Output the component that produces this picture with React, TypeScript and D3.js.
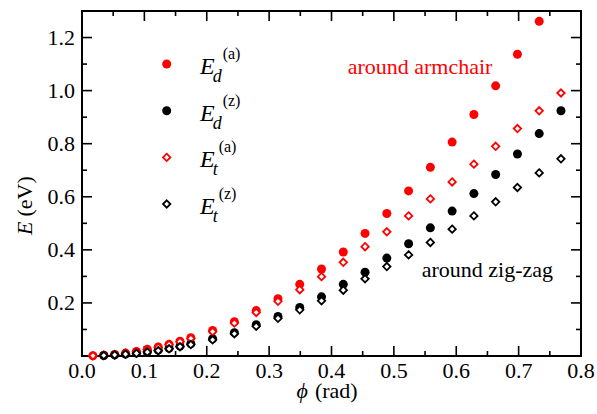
import React, { useEffect, useRef } from "react";
import * as d3 from "d3";

// phi values (rad)
const phi = [
  0.0175, 0.0349, 0.0524, 0.0698, 0.0873, 0.1047, 0.1222, 0.1396, 0.1571, 0.1745,
  0.2094, 0.2443, 0.2793, 0.3142, 0.3491, 0.384, 0.4189, 0.4538, 0.4887, 0.5236,
  0.5585, 0.5934, 0.6283, 0.6632, 0.6981, 0.733, 0.7679,
];

const edArmchair = [
  0.001, 0.003, 0.006, 0.011, 0.017, 0.025, 0.034, 0.044, 0.056, 0.069,
  0.096, 0.129, 0.171, 0.216, 0.27, 0.328, 0.392, 0.462, 0.537, 0.622,
  0.711, 0.806, 0.91, 1.018, 1.137, 1.261, null,
];
const edZigzag = [
  null, 0.002, 0.004, 0.007, 0.011, 0.016, 0.022, 0.029, 0.037, 0.046,
  0.065, 0.088, 0.118, 0.149, 0.183, 0.223, 0.27, 0.316, 0.369, 0.423,
  0.483, 0.546, 0.612, 0.684, 0.761, 0.838, 0.924,
];
const etArmchair = [
  0.001, 0.003, 0.006, 0.01, 0.016, 0.024, 0.033, 0.043, 0.054, 0.066,
  0.092, 0.124, 0.164, 0.206, 0.25, 0.299, 0.353, 0.412, 0.468, 0.528,
  0.592, 0.656, 0.723, 0.79, 0.857, 0.924, 0.991,
];
const etZigzag = [
  null, 0.002, 0.004, 0.007, 0.01, 0.015, 0.02, 0.027, 0.035, 0.043,
  0.061, 0.084, 0.112, 0.142, 0.174, 0.208, 0.248, 0.291, 0.337, 0.381,
  0.428, 0.478, 0.528, 0.581, 0.635, 0.69, 0.743,
];

const xTicks = [0, 0.1, 0.2, 0.3, 0.4, 0.5, 0.6, 0.7, 0.8];
const xMinor = [0.05, 0.15, 0.25, 0.35, 0.45, 0.55, 0.65, 0.75];
const yTicks = [0, 0.2, 0.4, 0.6, 0.8, 1.0, 1.2];
const yMinor = [0.1, 0.3, 0.5, 0.7, 0.9, 1.1];
const yLabels = ["", "0.2", "0.4", "0.6", "0.8", "1.0", "1.2"];

const seriesKeys = ["Ed(a)", "Ed(z)", "Et(a)", "Et(z)"];
const legendSub = ["d", "d", "t", "t"];
const legendSup = ["(a)", "(z)", "(a)", "(z)"];

const FONT = "Liberation Serif";
const RED = "#ff0000";

export default function App() {
  const ref = useRef<SVGSVGElement>(null);

  useEffect(() => {
    const W = 597, H = 414;
    const L = 82, R = 581, T = 11, B = 356;
    const x = d3.scaleLinear().domain([0, 0.8]).range([L, R]);
    const y = d3.scaleLinear().domain([0, 1.3]).range([B, T]);

    const svg = d3.select(ref.current);
    svg.selectAll("*").remove();
    svg.append("style").text(`text, tspan { font-family: "${FONT}", "Times New Roman", serif !important; }`);
    svg.append("rect").attr("width", W).attr("height", H).attr("fill", "#fff");

    const tk = svg.append("g").attr("stroke", "#000").attr("stroke-width", 1.6);
    const vt = (v: number, len: number) => {
      tk.append("line").attr("x1", x(v)).attr("x2", x(v)).attr("y1", B).attr("y2", B - len);
      tk.append("line").attr("x1", x(v)).attr("x2", x(v)).attr("y1", T).attr("y2", T + len);
    };
    const ht = (v: number, len: number) => {
      tk.append("line").attr("x1", L).attr("x2", L + len).attr("y1", y(v)).attr("y2", y(v));
      tk.append("line").attr("x1", R).attr("x2", R - len).attr("y1", y(v)).attr("y2", y(v));
    };
    xTicks.forEach((t) => vt(t, 10));
    xMinor.forEach((t) => vt(t, 5));
    yTicks.forEach((t) => ht(t, 10));
    yMinor.forEach((t) => ht(t, 5));
    svg.append("rect").attr("x", L).attr("y", T).attr("width", R - L).attr("height", B - T)
      .attr("fill", "none").attr("stroke", "#000").attr("stroke-width", 2);

    const txt = (sel: any) => sel.attr("font-family", FONT).style("font-family", FONT);

    xTicks.forEach((t) => {
      txt(svg.append("text")).attr("x", x(t)).attr("y", 378).attr("text-anchor", "middle")
        .attr("font-size", 22).text(t.toFixed(1));
    });
    yTicks.forEach((t, i) => {
      txt(svg.append("text")).attr("x", 75).attr("y", y(t) + 7.5).attr("text-anchor", "end")
        .attr("font-size", 22).text(yLabels[i]);
    });

    const xt = txt(svg.append("text")).attr("x", 296.5).attr("y", 398).attr("font-size", 22);
    xt.append("tspan").attr("font-style", "italic").text("ϕ");
    xt.append("tspan").attr("dx", 7).text("(rad)");

    const yt = txt(svg.append("text")).attr("transform", "translate(32,235) rotate(-90)").attr("font-size", 22);
    yt.append("tspan").attr("font-style", "italic").text("E");
    yt.append("tspan").attr("dx", 5).text("(eV)");

    const series = [
      { key: seriesKeys[0], vals: edArmchair, color: RED, shape: "circle" },
      { key: seriesKeys[1], vals: edZigzag, color: "#000", shape: "circle" },
      { key: seriesKeys[2], vals: etArmchair, color: RED, shape: "diamond" },
      { key: seriesKeys[3], vals: etZigzag, color: "#000", shape: "diamond" },
    ];
    const dr = 3.7;
    const marker = (g: any, shape: string, color: string, cx: number, cy: number) => {
      if (shape === "circle") {
        g.append("circle").attr("cx", cx).attr("cy", cy).attr("r", 4.5).attr("fill", color);
      } else {
        g.append("path")
          .attr("d", `M${cx},${cy - dr}L${cx + dr},${cy}L${cx},${cy + dr}L${cx - dr},${cy}Z`)
          .attr("fill", "#fff").attr("stroke", color).attr("stroke-width", 1.8);
      }
    };

    series.forEach((s) => {
      const g = svg.append("g");
      phi.forEach((p, i) => {
        const v = s.vals[i];
        if (v != null) marker(g, s.shape, s.color, x(p), y(v));
      });
    });

    const legendY = [64, 110.7, 157.4, 204];
    series.forEach((s, i) => {
      const g = svg.append("g");
      marker(g, s.shape, s.color, 166.7, legendY[i]);
      const t = txt(g.append("text")).attr("x", 200).attr("y", legendY[i] + 10).attr("font-size", 24);
      t.append("tspan").attr("font-style", "italic").text("E");
      t.append("tspan").attr("font-style", "italic").attr("font-size", 18).attr("dx", -2).attr("dy", 8).text(legendSub[i]);
      t.append("tspan").attr("font-size", 16).attr("dx", 1).attr("dy", -23).text(legendSup[i]);
    });

    txt(svg.append("text")).attr("x", 347.7).attr("y", 74).attr("font-size", 22).attr("fill", RED).text("around armchair");
    txt(svg.append("text")).attr("x", 421.7).attr("y", 277).attr("font-size", 22).attr("fill", "#000").text("around zig-zag");
  }, []);

  return <svg ref={ref} width={597} height={414} style={{ position: "absolute", left: 0, top: 0 }} />;
}
